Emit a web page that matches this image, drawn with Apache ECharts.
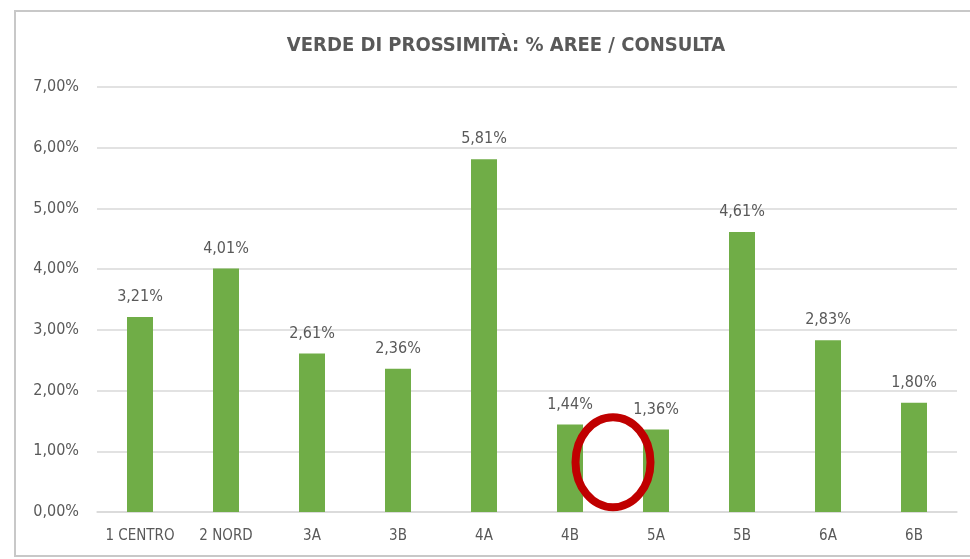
<!DOCTYPE html>
<html>
<head>
<meta charset="utf-8">
<script src="https://cdn.jsdelivr.net/npm/echarts@6/dist/echarts.min.js"></script>
<style>
  html, body { margin: 0; padding: 0; background: #fff; }
  #chart { width: 970px; height: 559px; }
</style>
</head>
<body>
<div id="chart"></div>
<script>
const categories = ['1 CENTRO', '2 NORD', '3A', '3B', '4A', '4B', '5A', '5B', '6A', '6B'];
const values = [3.21, 4.01, 2.61, 2.36, 5.81, 1.44, 1.36, 4.61, 2.83, 1.80];
const yTicks = [0, 1, 2, 3, 4, 5, 6, 7];

const font = "'DejaVu Sans Condensed', 'Liberation Sans Narrow', sans-serif";
const textColor = '#595959';

// 3.21 -> "3,21%"
function pct(v) {
  return v.toFixed(2).replace('.', ',') + '%';
}

const chart = echarts.init(document.getElementById('chart'));
chart.setOption({
  animation: false,
  title: {
    text: 'VERDE DI PROSSIMITÀ: % AREE / CONSULTA',
    left: 501,
    textAlign: 'center',
    top: 31,
    textStyle: { fontFamily: font, fontSize: 20, fontWeight: 'bold', color: textColor }
  },
  grid: { left: 97, right: 13, top: 87, bottom: 47 },
  xAxis: {
    type: 'category',
    data: categories,
    axisLine: { lineStyle: { color: '#d9d9d9', width: 1.5 } },
    axisTick: { show: false },
    axisLabel: { interval: 0, margin: 17, fontFamily: font, fontSize: 15, color: textColor }
  },
  yAxis: {
    type: 'value',
    min: yTicks[0],
    max: yTicks[yTicks.length - 1],
    interval: 1,
    axisLine: { show: false },
    axisTick: { show: false },
    axisLabel: { margin: 18, fontFamily: font, fontSize: 16, color: textColor, formatter: pct },
    splitLine: { lineStyle: { color: '#d9d9d9', width: 1.5 } }
  },
  series: [{
    type: 'bar',
    data: values,
    barWidth: 26,
    itemStyle: { color: '#70ad47' },
    label: {
      show: true,
      position: 'top',
      distance: 12,
      fontFamily: font,
      fontSize: 16,
      color: textColor,
      formatter: p => pct(p.value)
    }
  }]
});

// box border and the red circle marking the gap between 4B and 5A
const a = chart.convertToPixel({ gridIndex: 0 }, [5, 0.82]);
const b = chart.convertToPixel({ gridIndex: 0 }, [6, 0.82]);
chart.setOption({
  graphic: [
    {
      type: 'rect',
      z: 100,
      shape: { x: 15, y: 11, width: 990, height: 545 },
      style: { fill: 'none', stroke: '#c8c8c8', lineWidth: 2 }
    },
    {
      type: 'ellipse',
      z: 100,
      shape: { cx: (a[0] + b[0]) / 2, cy: a[1], rx: 37.5, ry: 45 },
      style: { fill: 'none', stroke: '#c00000', lineWidth: 8 }
    }
  ]
});
</script>
</body>
</html>
